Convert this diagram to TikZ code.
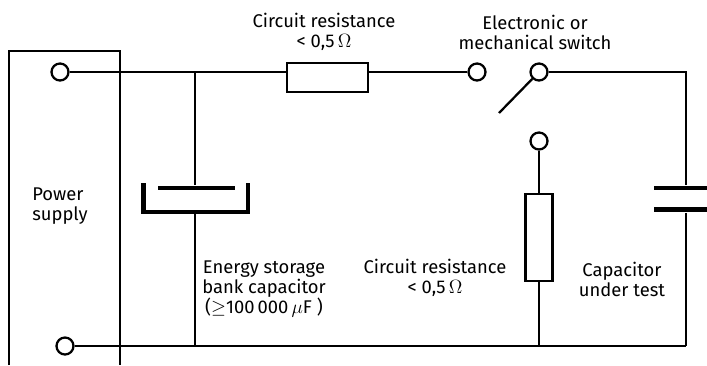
\documentclass[tikz,border=0pt]{standalone}
\usepackage{fontspec}
\setmainfont{Fira Sans}
\begin{document}
\begin{tikzpicture}[x=0.75pt, y=-0.75pt, line width=1.7pt, every node/.style={font=\fontsize{13.8}{15}\selectfont}]
    \tikzstyle{term} = [circle, draw, fill=white, inner sep=0pt, minimum size=12.75pt]
    \tikzstyle{resistor} = [rectangle, draw, fill=white, inner sep=0pt]
    \tikzstyle{plate} = [rectangle, fill=black, inner sep=0pt, minimum height=3.4pt]
    \tikzstyle{caption} = [align=center, inner sep=0pt]
    \useasboundingbox (0,0) rectangle (707,365);

    % power supply, open at the bottom
    \coordinate (boxl) at (9,365);
    \coordinate (boxr) at (120,365);
    \coordinate (boxt) at (120,51);
    \draw (boxl) |- (boxt) -- (boxr);

    \coordinate (jtop) at (195,72);
    \coordinate (jbot) at (195,346);
    \coordinate (jres) at (539,346);
    \coordinate (capx) at (686,0);

    \node [term] (psplus) at (60,72) {};
    \node [term] (psminus) at (65,346) {};
    \node [term] (swin) at (477,72) {};
    \node [term] (swout) at (539,72) {};
    \node [term] (swalt) at (539,141) {};
    \coordinate (armend) at (499,113);

    \node [resistor, minimum width=60.75pt, minimum height=21.75pt] (seriesres) at (327.5,77.5) {};
    \node [resistor, minimum width=20.25pt, minimum height=65.25pt] (dumpres) at (539,237.5) {};

    % storage bank capacitor
    \node [plate, minimum width=57.75pt] (bankplate) at (196.5,188) {};
    \coordinate (cupl) at (143.5,183);
    \coordinate (cupr) at (248,183);
    \coordinate (cupb) at (195,212);
    \draw [line width=3.4pt] (cupl) |- (cupb) -| (cupr);

    % capacitor under test
    \node [plate, minimum width=39.75pt] (capa) at (680.5,188) {};
    \node [plate, minimum width=39.75pt] (capb) at (680.5,209.5) {};

    % wires
    \draw (psplus) -- (psplus -| seriesres.west);
    \draw (seriesres.east |- swin) -- (swin);
    \draw (jtop) -- (bankplate.north -| jtop);
    \draw (cupb) -- (jbot);
    \draw (swout) -- (swout -| capx) -- (capx |- capa.north);
    \draw (capx |- capb.south) -- (capx |- jres);
    \draw (psminus) -- (capx |- jres);
    \draw (swalt) -- (dumpres);
    \draw (dumpres) -- (jres);
    \draw (swout) -- (armend);

    % labels
    \node [caption] (lblseries) at (324,32) {Circuit resistance\\< 0,5$\,\Omega$};
    \node [caption] (lblswitch) at (535,32) {Electronic or\\mechanical switch};
    \node [caption, align=left] (lblsupply) at (60,206) {Power\\supply};
    \node [caption] (lblbank) at (264,289) {Energy storage\\bank capacitor\\($\geq$100\,000$\,\mu$F )};
    \node [caption] (lbldump) at (435,278) {Circuit resistance\\< 0,5$\,\Omega$};
    \node [caption] (lblcap) at (622,279) {Capacitor\\under test};
\end{tikzpicture}
\end{document}
